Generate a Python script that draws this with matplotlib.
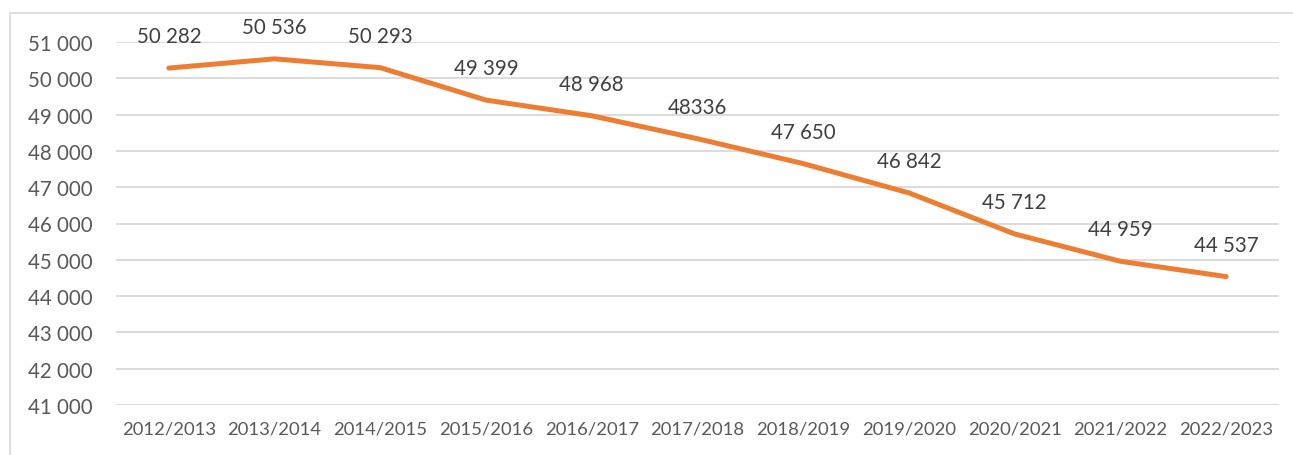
import matplotlib
matplotlib.use("Agg")
import matplotlib.pyplot as plt
from matplotlib.patches import Rectangle

plt.rcParams['font.family'] = ['Lato', 'DejaVu Sans']

years = ["2012/2013", "2013/2014", "2014/2015", "2015/2016", "2016/2017", "2017/2018",
         "2018/2019", "2019/2020", "2020/2021", "2021/2022", "2022/2023"]
values = [50282, 50536, 50293, 49399, 48968, 48336, 47650, 46842, 45712, 44959, 44537]
labels = ["50 282", "50 536", "50 293", "49 399", "48 968", "48336",
          "47 650", "46 842", "45 712", "44 959", "44 537"]
yticks = list(range(41000, 52000, 1000))

fig = plt.figure(figsize=(12.93, 4.56), dpi=100)
ax = fig.add_axes([116/1293, 1 - 406/456, (1279 - 116)/1293, (406 - 43)/456])

# frame around the chart
fig.patches.append(Rectangle((10/1293, -0.01), 1.2, 1 - 14/456 + 0.01, transform=fig.transFigure,
                             fill=False, edgecolor="#D9D9D9", linewidth=1.2))

x = list(range(len(years)))
ax.plot(x, values, color="#ED7D31", linewidth=3.6, solid_capstyle="round", zorder=3)
for xi, v, lab in zip(x, values, labels):
    ax.annotate(lab, (xi, v), xytext=(0, 23), textcoords="offset points",
                ha="center", va="center", fontsize=14.8, color="#404040")

ax.set_xlim(-0.5, len(years) - 0.5)
ax.set_ylim(41000, 51000)
ax.set_yticks(yticks)
ax.set_yticklabels([f"{t:,}".replace(",", " ") for t in yticks])
ax.set_xticks(x)
ax.set_xticklabels(years)
ax.grid(axis="y", color="#D9D9D9", linewidth=1.3)
ax.set_axisbelow(True)
for s in ax.spines.values():
    s.set_visible(False)
ax.tick_params(length=0)
ax.tick_params(axis="y", labelsize=14.8, labelcolor="#595959", pad=17)
ax.tick_params(axis="x", labelsize=13.3, labelcolor="#595959", pad=11)

fig.savefig("out.png", dpi=100)
